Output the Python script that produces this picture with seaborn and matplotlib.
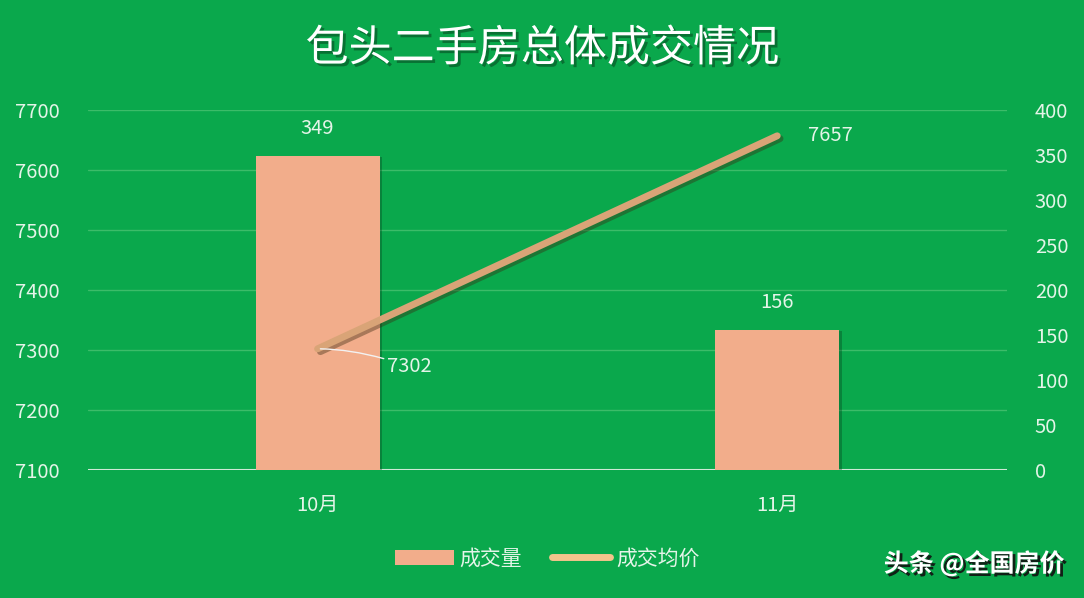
import numpy as np
import pandas as pd
import matplotlib
matplotlib.use("Agg")
import matplotlib.pyplot as plt
import matplotlib.patheffects as pe
from matplotlib.patches import Patch
from matplotlib.lines import Line2D
import seaborn as sns

months = ["10月", "11月"]
volume = [349, 156]          # 成交量 (right axis)
avg_price = [7302, 7657]     # 成交均价 (left axis)
price_ticks = [7100, 7200, 7300, 7400, 7500, 7600, 7700]
volume_ticks = [0, 50, 100, 150, 200, 250, 300, 350, 400]

bg = "#0aa84c"
txt = "#e4f4e8"
bar_c = "#f2ad8b"
line_c = "#d9a477"

sns.set_theme(style="white")
plt.rcParams["font.family"] = ["Noto Sans CJK SC", "DejaVu Sans"]

df = pd.DataFrame({"month": months, "volume": volume, "price": avg_price})

fig = plt.figure(figsize=(10.84, 5.98), dpi=100, facecolor=bg)
ax = fig.add_axes([0.081, 0.214, 0.848, 0.602])
ax.set_facecolor(bg)

# bottom layer: price grid + left ticks
ax.set_ylim(7100, 7700)
ax.set_yticks(price_ticks)
ax.grid(axis="y", color="#3cbc69", lw=1)
ax.tick_params(axis="y", colors=txt, labelsize=14.5, length=0, pad=20)
for s in ax.spines.values():
    s.set_visible(False)
ax.axhline(7100, color="#cfe9d6", lw=1.5)

# bars on right axis
ax2 = ax.twinx()
sns.barplot(data=df, x="month", y="volume", ax=ax2, color=bar_c, width=0.27,
            saturation=1, edgecolor="none")
ax2.set_ylim(0, 400)
ax2.set_yticks(volume_ticks)
ax2.set_ylabel("")
ax2.set_xlabel("")
ax2.tick_params(axis="y", colors=txt, labelsize=14.5, length=0, pad=20)
for s in ax2.spines.values():
    s.set_visible(False)
for p in ax2.patches:
    p.set_path_effects([pe.SimplePatchShadow(offset=(2, -1), alpha=0.35,
                                             shadow_rgbFace="#05401c"), pe.Normal()])
for i, v in enumerate(volume):
    ax2.annotate(str(v), (i, v), xytext=(0, 12), textcoords="offset points",
                 ha="center", va="bottom", color=txt, fontsize=14.5)

# line on top layer, left scale
ax3 = ax.twinx()
ax3.set_ylim(7100, 7700)
ax3.set_yticks([])
for s in ax3.spines.values():
    s.set_visible(False)
sns.lineplot(data=df, x="month", y="price", ax=ax3, color=line_c, lw=5,
             solid_capstyle="round", sort=False)
ax3.lines[0].set_path_effects([pe.SimpleLineShadow(offset=(2, -2), alpha=0.4,
                                                   shadow_color="#3a2a10"), pe.Normal()])
ax3.set_ylabel("")
ax3.set_xlabel("")

ax3.annotate(str(avg_price[0]), (0, avg_price[0]), xytext=(50, -13),
             textcoords="offset points", ha="left", va="center", color=txt,
             fontsize=14.5,
             arrowprops=dict(arrowstyle="-", color="#f2f2f2", lw=1,
                             connectionstyle="angle3,angleA=-20,angleB=0",
                             shrinkA=0, shrinkB=2))
ax3.annotate(str(avg_price[1]), (1, avg_price[1]), xytext=(22, 0),
             textcoords="offset points", ha="left", va="center", color=txt,
             fontsize=14.5)

# shared x axis: categories shown once on the bottom layer
ax.set_xlim(-0.5, 1.5)
ax.set_xticks([0, 1])
ax.set_xticklabels(months)
ax.tick_params(axis="x", colors=txt, labelsize=14.5, length=0, pad=18,
               labelbottom=True)
for a in (ax2, ax3):
    a.tick_params(axis="x", labelbottom=False, length=0)

fig.text(0.5, 0.918, "包头二手房总体成交情况", ha="center", va="center",
         color="white", fontsize=31, fontweight="medium",
         path_effects=[pe.withSimplePatchShadow(offset=(2, -2), alpha=0.45,
                                                shadow_rgbFace="#063015")])

handles = [Patch(facecolor=bar_c, edgecolor="none"),
           Line2D([0], [0], color="#f3c48c", lw=5, solid_capstyle="round")]
leg = fig.legend(handles, ["成交量", "成交均价"], loc="center",
                 bbox_to_anchor=(0.505, 0.066), ncol=2, frameon=False,
                 fontsize=15, handlelength=2.8, handletextpad=0.3,
                 columnspacing=1.4)
for t in leg.get_texts():
    t.set_color(txt)

fig.text(0.982, 0.058, "头条 @全国房价", ha="right", va="center", color="white",
         fontsize=18, fontweight="bold",
         path_effects=[pe.withSimplePatchShadow(offset=(2, -2), alpha=0.9,
                                                shadow_rgbFace="#111111")])

fig.savefig("out.png", dpi=100, facecolor=bg)
